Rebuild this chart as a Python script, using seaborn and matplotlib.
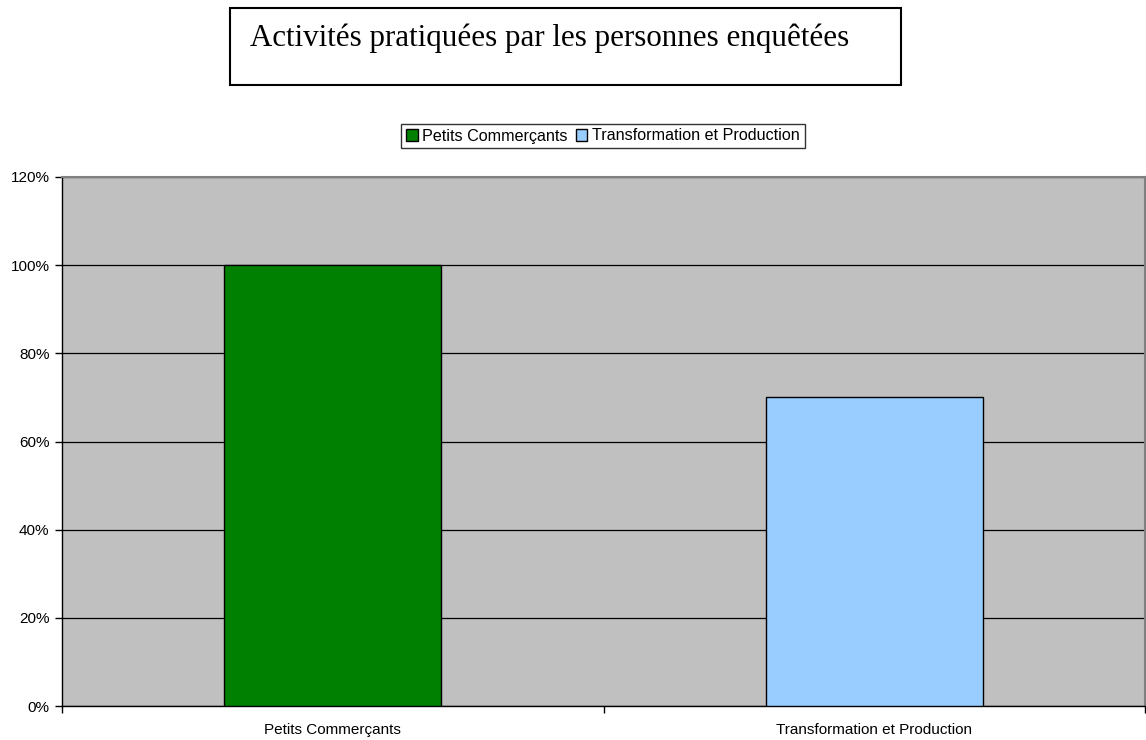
import pandas as pd
import matplotlib
import matplotlib.pyplot as plt
import seaborn as sns
from matplotlib.patches import Rectangle
from matplotlib.ticker import FuncFormatter, FixedLocator

matplotlib.use("Agg")

# données
categories = ["Petits Commerçants", "Transformation et Production"]
valeurs = [1.00, 0.70]
couleurs = ["#008000", "#99CCFF"]
yticks = [0, 0.2, 0.4, 0.6, 0.8, 1.0, 1.2]

df = pd.DataFrame({"categorie": categories, "valeur": valeurs})

sns.set_style("white")
plt.rcParams["font.family"] = ["Liberation Sans", "DejaVu Sans"]
plt.rcParams["text.color"] = "black"
plt.rcParams["xtick.color"] = "black"
plt.rcParams["ytick.color"] = "black"

fig = plt.figure(figsize=(11.46, 7.40), dpi=100)
ax = fig.add_axes([62 / 1146, 1 - 706 / 740, 1083 / 1146, 529 / 740])
ax.set_facecolor("#C0C0C0")

sns.barplot(data=df, x="categorie", y="valeur", hue="categorie",
            palette=couleurs, saturation=1, width=0.4, edgecolor="black", linewidth=1,
            legend=False, ax=ax, zorder=3)

ax.set_xlim(-0.5, 1.5)
ax.set_ylim(0, 1.2)
ax.set_yticks(yticks)
ax.yaxis.set_major_formatter(FuncFormatter(lambda v, p: f"{v * 100:.0f}%"))
ax.grid(axis="y", color="#000000", linewidth=0.9, zorder=1)
ax.set_axisbelow(True)

# graduations
ax.xaxis.set_minor_locator(FixedLocator([-0.5, 0.5, 1.5]))
ax.tick_params(axis="x", which="major", bottom=False, length=0, labelsize=11, pad=12)
ax.tick_params(axis="x", which="minor", bottom=True, length=5, width=1, color="black", direction="out")
ax.tick_params(axis="y", left=True, length=5, width=1, color="black", direction="out", labelsize=11, pad=4)
ax.set_xlabel("")
ax.set_ylabel("")

for s in ["left", "bottom"]:
    ax.spines[s].set_color("black")
    ax.spines[s].set_linewidth(1)
for s in ["top", "right"]:
    ax.spines[s].set_color("#808080")
    ax.spines[s].set_linewidth(1.5)

# légende
handles = [Rectangle((0, 0), 1, 1, facecolor=c, edgecolor="black", linewidth=1) for c in couleurs]
leg = fig.legend(handles, categories, loc="center", bbox_to_anchor=(603 / 1146, 1 - 136 / 740),
                 ncol=2, fontsize=11.6, frameon=True, fancybox=False, handlelength=0.7,
                 handleheight=0.7, handletextpad=0.3, columnspacing=0.5, borderpad=0.3)
leg.get_frame().set_edgecolor("black")
leg.get_frame().set_linewidth(1)

# titre dans un cadre
fig.patches.append(Rectangle((230 / 1146, 1 - 85 / 740), 671 / 1146, 77 / 740,
                             transform=fig.transFigure, facecolor="white",
                             edgecolor="black", linewidth=1.5))
fig.text(250 / 1146, 1 - 38 / 740, "Activités pratiquées par les personnes enquêtées",
         ha="left", va="center", fontsize=22.3, color="black",
         family=["Liberation Serif", "DejaVu Serif"])

plt.savefig("out.png", dpi=100)
